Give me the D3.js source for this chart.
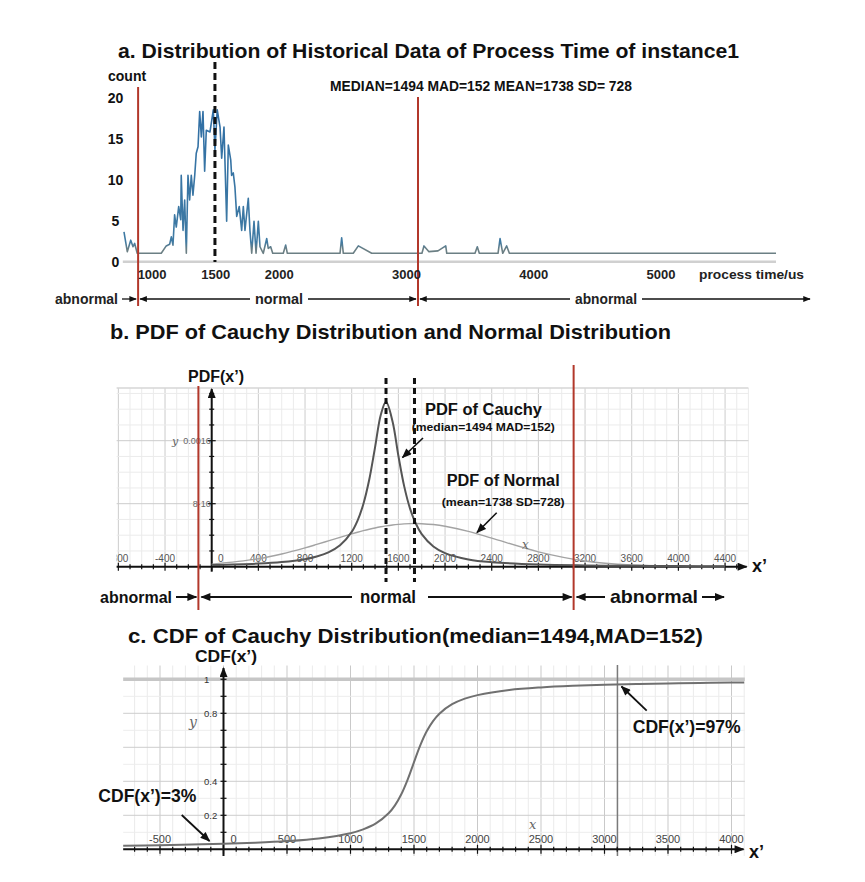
<!DOCTYPE html>
<html><head><meta charset="utf-8">
<script src="https://cdn.jsdelivr.net/npm/d3@7"></script>
<style>
body{margin:0;background:#fff;}
svg{display:block;font-family:"Liberation Sans",Arial,Helvetica,sans-serif;}
</style></head><body>
<svg id="chart" width="865" height="882"></svg>
<script>
// ---------- Panel a: histogram of process time ----------
const histTime = [779,805,832,850,863,883,1072,1111,1138,1151,1164,1177,1190,1209,1225,1229,1243,1256,1269,1282,1295,1308,1321,1335,1347,1361,1374,1387,1400,1413,1426,1455,1481,1494,1512,1534,1547,1565,1586,1599,1618,1625,1638,1651,1665,1685,1704,1717,1730,1756,1769,1783,1801,1817,1835,1848,1874,1901,1913,1932,1948,2031,2050,2063,2477,2490,2503,2581,2621,2726,3121,3137,3176,3247,3308,3316,3538,3556,3572,3719,3735,3756,3787,3808,5904];
const histCount = [3.6,1.2,2.6,1.8,2.2,1.0,1.0,1.9,2.1,3.0,2.0,5.7,4.2,6.7,5.1,10.5,3.8,7.5,1.0,10.5,7.5,10.5,8.1,10.5,13.2,14,18.3,15.2,18.3,11,16,15.8,18.5,13.6,18.5,16.4,12.6,16.4,4.9,14.2,12.4,10.5,10.8,9.1,5.5,6.7,3.8,6.7,3.8,7.7,3.8,1.0,4.9,1.0,4.9,1.8,1.0,2.8,1.6,1.8,1.0,1.0,2.0,1.0,1.0,2.9,1.0,1.0,1.9,1.0,1.0,1.9,1.2,1.3,1.9,1.0,1.0,1.8,1.0,1.0,2.8,1.0,1.9,1.0,1.0];
const aXTicks = [1000,1500,2000,3000,4000,5000];
const aYTicks = [0,5,10,15,20];
const aThresholds = [890, 3090];
const aMedian = 1494;

// ---------- Panel b: PDFs ----------
const pdfX = [0,400,600,800,900,1000,1100,1200,1250,1300,1350,1400,1450,1494,1550,1600,1650,1700,1750,1800,1900,2000,2200,2400,2800,3200,3600,4000,4400];
const cauchyPdf = [2.15e-5,3.97e-5,5.88e-5,9.58e-5,1.287e-4,1.811e-4,2.712e-4,4.417e-4,5.854e-4,7.965e-4,1.104e-3,1.515e-3,1.932e-3,2.094e-3,1.844e-3,1.409e-3,1.020e-3,7.381e-4,5.459e-4,4.144e-4,2.574e-4,1.733e-4,9.27e-5,5.73e-5,2.80e-5,1.65e-5,1.085e-5,7.68e-6,5.71e-6];
const normalPdf = [3.17e-5,1.012e-4,1.615e-4,2.389e-4,2.826e-4,3.278e-4,3.732e-4,4.17e-4,4.377e-4,4.573e-4,4.754e-4,4.92e-4,5.067e-4,5.18e-4,5.30e-4,5.38e-4,5.44e-4,5.473e-4,5.479e-4,5.46e-4,5.35e-4,5.135e-4,4.48e-4,3.625e-4,1.891e-4,7.30e-5,2.08e-5,4.39e-6,1.3e-6];
const bMarkers = [1494, 1738];
const bThresholds = [-114, 3102];
const bXTicks = [-800,-400,0,400,800,1200,1600,2000,2400,2800,3200,3600,4000,4400];
const bYTicks = [0.0008, 0.0016];
const bYTickText = ["8·10", "0.0016"];

// ---------- Panel c: CDF ----------
const cdfX = [-790,-500,-250,0,250,500,750,1000,1100,1200,1300,1350,1400,1450,1494,1550,1600,1650,1700,1800,1900,2000,2250,2500,2750,3000,3250,3500,3750,4000,4100];
const cdfY = [0.0212,0.0242,0.0277,0.0323,0.0387,0.0483,0.0642,0.0949,0.1173,0.1521,0.2117,0.2586,0.3238,0.4103,0.5,0.6123,0.6939,0.7541,0.7978,0.8533,0.8860,0.9068,0.9368,0.9523,0.9617,0.9680,0.9725,0.9759,0.9786,0.9805,0.9815];
const cXTicks = [-500,0,500,1000,1500,2000,2500,3000,3500,4000];
const cYTicks = [0.2,0.4,0.8,1];
const cMarker = 3102;

const RED = '#b2382b';
const svg = d3.select('#chart');
const defs = svg.append('defs');
function mk(id, w, h){
  defs.append('marker').attr('id',id).attr('viewBox','0 0 10 8').attr('refX',9).attr('refY',4)
    .attr('markerWidth',w).attr('markerHeight',h).attr('markerUnits','userSpaceOnUse')
    .attr('orient','auto-start-reverse')
    .append('path').attr('d','M0,0L10,4L0,8Z').attr('fill','#111');
}
mk('ahS',8,6); mk('ahM',11,8); mk('ahL',12,9);
function line(g,x1,y1,x2,y2,stroke,w,dash){
  const l = g.append('line').attr('x1',x1).attr('y1',y1).attr('x2',x2).attr('y2',y2)
    .attr('stroke',stroke).attr('stroke-width',w);
  if(dash) l.attr('stroke-dasharray',dash);
  return l;
}
function arrow(g,x1,y1,x2,y2,opt){
  const l = line(g,x1,y1,x2,y2,'#111',opt.w||1.5);
  if(opt.end) l.attr('marker-end','url(#'+opt.m+')');
  if(opt.start) l.attr('marker-start','url(#'+opt.m+')');
  return l;
}
function txt(g,x,y,s,size,opt){
  opt = opt||{};
  const t = g.append('text').attr('x',x).attr('y',y).attr('font-size',size)
    .attr('font-weight',opt.weight||'bold').attr('fill',opt.fill||'#111')
    .attr('text-anchor',opt.anchor||'start').text(s);
  if(opt.len) t.attr('textLength',opt.len).attr('lengthAdjust','spacingAndGlyphs');
  if(opt.style) t.attr('font-style',opt.style);
  if(opt.family) t.attr('font-family',opt.family);
  return t;
}

// ================= Panel a =================
const gA = svg.append('g');
const xA = d3.scaleLinear().domain([1000,5000]).range([152.1,661]);
const yA = d3.scaleLinear().domain([0,20]).range([261.5,97.5]);

txt(gA,118,58,'a. Distribution of Historical Data of Process Time of instance1',21,{len:621});
txt(gA,108,80.5,'count',14);
txt(gA,330,90.7,'MEDIAN=1494 MAD=152 MEAN=1738 SD= 728',14.5,{len:302});

aYTicks.forEach(v => txt(gA,115.5,yA(v)+5,String(v),14,{anchor:'middle'}));

line(gA,xA(770),yA(0)+0.3,xA(d3.max(histTime)),yA(0)+0.3,'#d0d0d0',2.5);

const grad = defs.append('linearGradient').attr('id','histGrad').attr('gradientUnits','userSpaceOnUse')
  .attr('x1',0).attr('x2',0).attr('y1',yA(20)).attr('y2',yA(0));
[[0,'#2f6ea5'],[0.88,'#3f7aa3'],[0.925,'#6b7f84'],[1,'#6b7f84']].forEach(s=>grad.append('stop').attr('offset',s[0]).attr('stop-color',s[1]));

const histPts = histTime.map((t,i)=>[t,histCount[i]]);
gA.append('path').datum(histPts)
  .attr('d',d3.line().x(d=>xA(d[0])).y(d=>yA(d[1])))
  .attr('fill','none').attr('stroke','url(#histGrad)').attr('stroke-width',1.6).attr('stroke-linejoin','round');

line(gA,xA(aMedian),62,xA(aMedian),262,'#111',3,'7,4');
line(gA,xA(aThresholds[0]),87,xA(aThresholds[0]),306,RED,2);
line(gA,xA(aThresholds[1]),97,xA(aThresholds[1]),306,RED,2);

aXTicks.forEach(v => txt(gA,xA(v),279,String(v),13,{anchor:'middle',fill:'#222'}));
txt(gA,699,279,'process time/us',13.5,{len:105,fill:'#222'});

const rA = 299, la = xA(aThresholds[0]), ra = xA(aThresholds[1]);
txt(gA,55,rA+5,'abnormal',14,{len:63,fill:'#222'});
arrow(gA,122,rA,la-2,rA,{end:true,m:'ahS',w:1.3});
arrow(gA,la+2,rA,250,rA,{start:true,m:'ahS',w:1.3});
txt(gA,279,rA+5,'normal',14,{anchor:'middle',len:48,fill:'#222'});
arrow(gA,308,rA,ra-2,rA,{end:true,m:'ahS',w:1.3});
arrow(gA,ra+2,rA,570,rA,{start:true,m:'ahS',w:1.3});
txt(gA,575,rA+5,'abnormal',14,{len:62,fill:'#222'});
arrow(gA,642,rA,810,rA,{end:true,m:'ahS',w:1.3});

// ================= Panel b =================
const gB = svg.append('g');
const xB = d3.scaleLinear().domain([0,4000]).range([211.7,678.4]);
const yB = d3.scaleLinear().domain([0,0.0016]).range([566.7,440.7]);
const bTop = 0.00227;

txt(gB,110,339,'b. PDF of Cauchy Distribution and Normal Distribution',21,{len:561});

d3.range(-800,4601,100).forEach(v=>{
  const major = (v % 400 === 0);
  line(gB,xB(v),yB(bTop),xB(v),yB(0),major?'#cccccc':'#ebebeb',1);
});
d3.range(1,12).forEach(i=>{
  const v = i*0.0002, major = (i%4===0);
  line(gB,xB(-815),yB(v),xB(4600),yB(v),major?'#cccccc':'#ebebeb',1);
});
line(gB,xB(-815),yB(bTop),xB(4600),yB(bTop),'#d6d6d6',1.5);

defs.append('clipPath').attr('id','bclip').append('rect').attr('x',xB(-815)).attr('y',540).attr('width',640).attr('height',40);
const bLab = gB.append('g').attr('clip-path','url(#bclip)');
bXTicks.forEach(v=> txt(bLab,xB(v)+(v===0?9:0),562,String(v),10,{anchor:'middle',weight:'normal',fill:'#555'}));
bYTicks.forEach((v,i)=> txt(gB,xB(0)-1,yB(v)+3.5,bYTickText[i],9,{anchor:'end',weight:'normal',fill:'#666'}));
txt(gB,172,yB(0.0016)+4,'y',11,{weight:'normal',style:'italic',fill:'#666',family:'"DejaVu Serif",serif'});

arrow(gB,xB(-815),yB(0),xB(4585),yB(0),{end:true,m:'ahM',w:2});
arrow(gB,xB(0),571.7,xB(0),389,{end:true,m:'ahM',w:2});
d3.range(-800,4501,100).forEach(v=>{
  const h = (v%400===0)?4:2.5;
  line(gB,xB(v),yB(0)-h,xB(v),yB(0)+h,'#111',1.2);
});
d3.range(1,12).forEach(i=>{
  const h = (i%4===0)?4:2.5;
  line(gB,xB(0)-h,yB(i*0.0002),xB(0)+h,yB(i*0.0002),'#111',1.2);
});
txt(gB,752,572,'x’',18);
txt(gB,188,381.7,'PDF(x’)',16,{len:56});

const pdfLine = d3.line().curve(d3.curveCatmullRom.alpha(0.5)).x(d=>xB(d[0])).y(d=>yB(d[1]));
gB.append('path').datum(pdfX.map((x,i)=>[x,normalPdf[i]])).attr('d',pdfLine)
  .attr('fill','none').attr('stroke','#a3a3a3').attr('stroke-width',1.4);
gB.append('path').datum(pdfX.map((x,i)=>[x,cauchyPdf[i]])).attr('d',pdfLine)
  .attr('fill','none').attr('stroke','#555').attr('stroke-width',2);

bMarkers.forEach(v=> line(gB,xB(v),378,xB(v),582,'#111',3,'6,4'));
line(gB,xB(bThresholds[0]),386,xB(bThresholds[0]),610,RED,2);
line(gB,xB(bThresholds[1]),365,xB(bThresholds[1]),610,RED,2);

txt(gB,425,415,'PDF of Cauchy',16,{len:117});
txt(gB,411.7,430.7,'(median=1494 MAD=152)',11,{len:143});
arrow(gB,423,438,402.5,457.5,{end:true,m:'ahM',w:1.6});
txt(gB,446.7,486,'PDF of Normal',16,{len:113});
txt(gB,441.7,505.7,'(mean=1738 SD=728)',11,{len:123});
arrow(gB,496.7,512.7,477,532.5,{end:true,m:'ahM',w:1.6});
txt(gB,522,549,'x',12,{weight:'normal',style:'italic',fill:'#666',family:'"DejaVu Serif",serif'});

const rB = 597, lb = xB(bThresholds[0]), rb = xB(bThresholds[1]);
txt(gB,100,rB+6,'abnormal',17,{len:72});
arrow(gB,176,rB,lb-2,rB,{end:true,m:'ahM',w:2});
arrow(gB,lb+3,rB,352,rB,{start:true,m:'ahM',w:2});
txt(gB,388,rB+6,'normal',19,{anchor:'middle',len:56});
arrow(gB,428,rB,rb-2,rB,{end:true,m:'ahM',w:2});
arrow(gB,rb+3,rB,605,rB,{start:true,m:'ahM',w:2});
txt(gB,610,rB+6,'abnormal',19,{len:88});
arrow(gB,702,rB,724,rB,{end:true,m:'ahM',w:2});

// ================= Panel c =================
const gC = svg.append('g');
const xC = d3.scaleLinear().domain([0,4000]).range([223.5,731.5]);
const yC = d3.scaleLinear().domain([0,1]).range([849.3,679.3]);

txt(gC,128,643,'c. CDF of Cauchy Distribution(median=1494,MAD=152)',21,{len:575});

d3.range(-700,4101,100).forEach(v=>{
  const major = (v%500===0);
  line(gC,xC(v),665.5,xC(v),856,major?'#c9c9c9':'#ebebeb',1);
});
d3.range(1,10).forEach(i=>{
  const major = (i%2===0);
  line(gC,xC(-790),yC(i*0.1),xC(4105),yC(i*0.1),major?'#cdcdcd':'#ededed',1);
});
line(gC,xC(-790),yC(1),xC(4105),yC(1),'#c6c6c6',3.5);
line(gC,xC(cMarker),665,xC(cMarker),856,'#7a7a7a',1.5);

arrow(gC,xC(-790),yC(0),xC(4095),yC(0),{end:true,m:'ahM',w:2});
arrow(gC,xC(0),856,xC(0),668,{end:true,m:'ahM',w:2});
d3.range(-700,4001,100).forEach(v=>{
  const h = (v%500===0)?4.5:2.5;
  line(gC,xC(v),yC(0)-h,xC(v),yC(0)+h,'#111',1.2);
});
d3.range(1,11).forEach(i=>{
  line(gC,xC(0)-3,yC(i*0.1),xC(0)+3,yC(i*0.1),'#111',1.2);
});
cXTicks.forEach(v=> txt(gC,xC(v)+(v===0?10:0),843,String(v),11,{anchor:'middle',weight:'normal',fill:'#444'}));
cYTicks.forEach(v=> txt(gC,204,yC(v)+3.5,String(v),9.5,{weight:'normal',fill:'#333'}));
txt(gC,189,727,'y',14,{weight:'normal',style:'italic',fill:'#666',family:'"DejaVu Serif",serif'});
txt(gC,529,829,'x',13,{weight:'normal',style:'italic',fill:'#666',family:'"DejaVu Serif",serif'});
txt(gC,749,858,'x’',18);
txt(gC,195,661.7,'CDF(x’)',16,{len:62});

gC.append('path').datum(cdfX.map((x,i)=>[x,cdfY[i]]))
  .attr('d',d3.line().curve(d3.curveCatmullRom.alpha(0.5)).x(d=>xC(d[0])).y(d=>yC(d[1])))
  .attr('fill','none').attr('stroke','#707070').attr('stroke-width',2);

txt(gC,98.3,801.7,'CDF(x’)=3%',19,{len:98});
arrow(gC,181.7,815,209.5,841,{end:true,m:'ahM',w:1.8});
txt(gC,632.7,733.3,'CDF(x’)=97%',19,{len:108});
arrow(gC,646.7,710.7,621.5,686.5,{end:true,m:'ahM',w:1.8});
</script>
</body></html>
